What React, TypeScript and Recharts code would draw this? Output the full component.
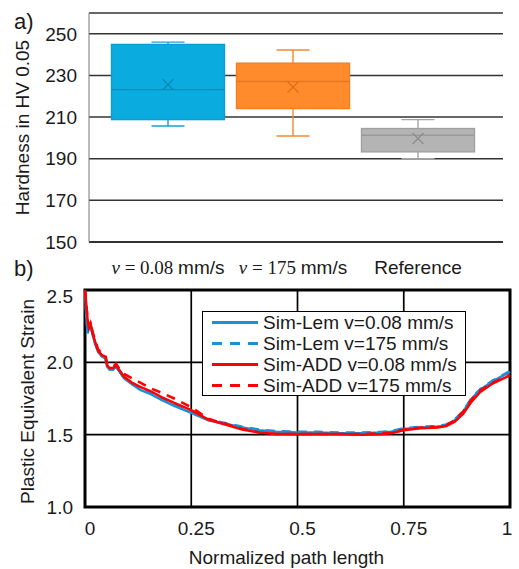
import React from 'react';
import {
  ComposedChart, Bar, XAxis, YAxis, CartesianGrid, LineChart, Line, Legend, Label, ReferenceArea,
} from 'recharts';

// ---------- Chart a) data ----------
const boxCategories = ['0.08 mm/s', '175 mm/s', 'Reference'];
const boxMin = [205.7, 200.9, 190.0];
const boxQ1 = [208.8, 214.1, 193.3];
const boxMedian = [223.2, 227.1, 201.3];
const boxQ3 = [244.9, 235.9, 204.5];
const boxMax = [246.0, 242.2, 208.8];
const boxMean = [225.6, 224.4, 199.7];
const hardnessTicks = [150, 170, 190, 210, 230, 250];

// ---------- Chart b) data ----------
const pathX = [0, 0.003, 0.006, 0.009, 0.013, 0.018, 0.024, 0.031, 0.04, 0.048, 0.052, 0.058, 0.066, 0.073, 0.08, 0.092, 0.11, 0.13, 0.155, 0.18, 0.21, 0.25, 0.29, 0.33, 0.37, 0.41, 0.45, 0.5, 0.55, 0.6, 0.65, 0.7, 0.72, 0.75, 0.79, 0.83, 0.85, 0.87, 0.89, 0.91, 0.93, 0.96, 1.0];
const lemSlow = [2.50, 2.32, 2.20, 2.23, 2.26, 2.19, 2.13, 2.07, 2.04, 2.03, 1.97, 1.95, 1.95, 1.97, 1.94, 1.89, 1.85, 1.81, 1.78, 1.74, 1.70, 1.65, 1.60, 1.575, 1.55, 1.53, 1.52, 1.515, 1.515, 1.51, 1.51, 1.515, 1.52, 1.54, 1.55, 1.555, 1.565, 1.60, 1.66, 1.75, 1.81, 1.87, 1.935];
const lemFast = [2.50, 2.34, 2.22, 2.24, 2.26, 2.19, 2.13, 2.07, 2.04, 2.03, 1.97, 1.95, 1.95, 1.97, 1.94, 1.895, 1.855, 1.815, 1.785, 1.745, 1.705, 1.655, 1.605, 1.58, 1.555, 1.535, 1.525, 1.52, 1.52, 1.515, 1.515, 1.52, 1.525, 1.545, 1.555, 1.56, 1.57, 1.605, 1.665, 1.755, 1.815, 1.875, 1.94];
const addSlow = [2.50, 2.40, 2.30, 2.24, 2.27, 2.20, 2.14, 2.08, 2.05, 2.04, 1.98, 1.96, 1.96, 1.98, 1.95, 1.90, 1.86, 1.83, 1.80, 1.76, 1.72, 1.67, 1.605, 1.57, 1.535, 1.515, 1.505, 1.505, 1.505, 1.505, 1.50, 1.505, 1.51, 1.53, 1.545, 1.55, 1.56, 1.59, 1.645, 1.73, 1.795, 1.855, 1.91];
const addFast = [2.50, 2.40, 2.31, 2.25, 2.28, 2.21, 2.15, 2.09, 2.06, 2.05, 1.99, 1.97, 1.97, 1.99, 1.96, 1.92, 1.89, 1.86, 1.82, 1.79, 1.75, 1.69, 1.61, 1.575, 1.54, 1.515, 1.505, 1.505, 1.505, 1.505, 1.505, 1.51, 1.515, 1.535, 1.55, 1.555, 1.565, 1.60, 1.66, 1.745, 1.805, 1.86, 1.915];
const strainXTicks = [0, 0.25, 0.5, 0.75, 1];
const strainYTicks = [1.0, 1.5, 2.0, 2.5];
const seriesNames = ['Sim-Lem v=0.08 mm/s', 'Sim-Lem v=175 mm/s', 'Sim-ADD v=0.08 mm/s', 'Sim-ADD v=175 mm/s'];

// ---------- Styles ----------
const SANS = '"Liberation Sans", Arial, sans-serif';
const SERIF = '"Liberation Serif", "Times New Roman", serif';
const TEXT = '#1a1a1a';
const BOX_STYLES = [
  { fill: '#0AACE0', stroke: '#0A9DD2', median: '#0A8EC2', mean: '#0A86B8', whisker: '#14A2D8' },
  { fill: '#FF8B2C', stroke: '#F47F20', median: '#E5771C', mean: '#D56E18', whisker: '#FA8730' },
  { fill: '#B4B4B4', stroke: '#A0A0A0', median: '#9A9A9A', mean: '#8C8C8C', whisker: '#A4A4A4' },
];
const BLUE = '#1B8FD7';
const RED = '#FF0000';
const LINE_STYLES = [
  { color: BLUE, dash: undefined as string | undefined },
  { color: BLUE, dash: '9 7' },
  { color: RED, dash: undefined as string | undefined },
  { color: RED, dash: '9 7' },
];

const boxData = boxCategories.map((name, i) => ({
  name,
  range: [boxMin[i], boxMax[i]],
  q1: boxQ1[i],
  median: boxMedian[i],
  q3: boxQ3[i],
  mean: boxMean[i],
}));

const strainData = pathX.map((x, i) => ({
  x,
  lemSlow: lemSlow[i],
  lemFast: lemFast[i],
  addSlow: addSlow[i],
  addFast: addFast[i],
}));
const strainKeys = ['lemSlow', 'lemFast', 'addSlow', 'addFast'];

// Box shape: the bar spans [min, max]; inner values mapped linearly within it
const BoxShape = (props: any) => {
  const { x, y, width, height, payload } = props;
  const idx = boxCategories.indexOf(payload.name);
  const st = BOX_STYLES[idx];
  const [lo, hi] = payload.range;
  const py = (v: number) => y + ((hi - v) / (hi - lo)) * height;
  const cx = x + width / 2;
  const capHalf = 16.5;
  const m = 5.5;
  const my = py(payload.mean);
  return (
    <g>
      <line x1={cx} x2={cx} y1={py(hi)} y2={py(payload.q3)} stroke={st.whisker} strokeWidth={1.4} />
      <line x1={cx} x2={cx} y1={py(payload.q1)} y2={py(lo)} stroke={st.whisker} strokeWidth={1.4} />
      <line x1={cx - capHalf} x2={cx + capHalf} y1={py(hi)} y2={py(hi)} stroke={st.whisker} strokeWidth={1.4} />
      <line x1={cx - capHalf} x2={cx + capHalf} y1={py(lo)} y2={py(lo)} stroke={st.whisker} strokeWidth={1.4} />
      <rect x={x} y={py(payload.q3)} width={width} height={py(payload.q1) - py(payload.q3)} fill={st.fill} stroke={st.stroke} strokeWidth={1.4} />
      <line x1={x} x2={x + width} y1={py(payload.median)} y2={py(payload.median)} stroke={st.median} strokeWidth={1.4} />
      <line x1={cx - m} x2={cx + m} y1={my - m} y2={my + m} stroke={st.mean} strokeWidth={1.2} />
      <line x1={cx - m} x2={cx + m} y1={my + m} y2={my - m} stroke={st.mean} strokeWidth={1.2} />
    </g>
  );
};

const BoxTick = (props: any) => {
  const { x, y, payload } = props;
  const v = String(payload.value);
  if (v === 'Reference') {
    return (
      <text x={x} y={y + 32} textAnchor="middle" fontFamily={SANS} fontSize={19} fill={TEXT}>Reference</text>
    );
  }
  const [num, unit] = v.split(' ');
  return (
    <text x={x} y={y + 32} textAnchor="middle" fontSize={19} fill={TEXT}>
      <tspan fontFamily={SERIF} fontStyle="italic">v</tspan>
      <tspan fontFamily={SERIF}>{' = ' + num + ' '}</tspan>
      <tspan fontFamily={SANS}>{unit}</tspan>
    </text>
  );
};

const StrainXTick = (props: any) => {
  const { x, y, payload } = props;
  const shift = payload.value === 1 ? -3 : 5;
  return (
    <text x={x + shift} y={y} dy="0.71em" textAnchor="middle" fontFamily={SANS} fontSize={19} fill={TEXT}>
      {String(payload.value)}
    </text>
  );
};

const StrainYTick = (props: any) => {
  const { x, y, payload } = props;
  const shift = payload.value === 2.5 ? 6 : 0;
  return (
    <text x={x} y={y + shift} dy="0.36em" textAnchor="end" fontFamily={SANS} fontSize={19} fill={TEXT}>
      {Number(payload.value).toFixed(1)}
    </text>
  );
};

const LegendBox = () => (
  <div
    style={{
      width: 264, height: 85, boxSizing: 'border-box', border: '1.5px solid #000', background: '#fff',
      paddingTop: 0, fontFamily: SANS, fontSize: 19, color: TEXT,
    }}
  >
    {seriesNames.map((n, i) => (
      <div key={n} style={{ display: 'flex', alignItems: 'center', height: 21, lineHeight: '21px' }}>
        <svg width={60} height={21} style={{ flex: 'none' }}>
          <line x1={9} x2={55} y1={10.5} y2={10.5} stroke={LINE_STYLES[i].color} strokeWidth={3} strokeDasharray={LINE_STYLES[i].dash ? '10 8' : undefined} />
        </svg>
        <span style={{ whiteSpace: 'nowrap' }}>{n}</span>
      </div>
    ))}
  </div>
);

export default function App() {
  return (
    <div style={{ position: 'absolute', left: 0, top: 0, width: 519, height: 569, background: '#fff' }}>
      <div style={{ position: 'absolute', left: 0, top: 0 }}>
        <ComposedChart width={519} height={290} data={boxData} margin={{ top: 13, right: 16, left: 0, bottom: 18 }}>
          <CartesianGrid vertical={false} stroke="#333" strokeWidth={1.5} />
          <XAxis
            dataKey="name"
            type="category"
            padding={{ left: 16.5, right: 22.5 }}
            height={30}
            tickSize={0}
            tickMargin={0}
            tickLine={false}
            axisLine={{ stroke: '#222', strokeWidth: 1.5 }}
            tick={<BoxTick />}
            interval={0}
          />
          <YAxis
            domain={[150, 260]}
            ticks={hardnessTicks}
            width={89}
            tickSize={0}
            tickMargin={12}
            tickLine={false}
            axisLine={{ stroke: '#777', strokeWidth: 1 }}
            tick={{ fontFamily: SANS, fontSize: 19, fill: TEXT }}
            allowDataOverflow
            label={{
              content: (p: any) => {
                const vb = p.viewBox || { x: 0, y: 13, width: 89, height: 229 };
                const cx = 22;
                const cy = vb.y + vb.height / 2;
                return (
                  <text x={cx} y={cy} transform={`rotate(-90 ${cx} ${cy})`} textAnchor="middle" dominantBaseline="central" fontFamily={SANS} fontSize={19} fill={TEXT}>
                    Hardness in HV 0.05
                  </text>
                );
              },
            }}
          />
          <Bar dataKey="range" barSize={113} shape={<BoxShape />} isAnimationActive={false} />
        </ComposedChart>
      </div>

      <div style={{ position: 'absolute', left: 0, top: 275 }}>
        <LineChart width={519} height={294} data={strainData} margin={{ top: 15, right: 9, left: 0, bottom: 32 }}>
          <CartesianGrid stroke="#000" strokeWidth={1.7} />
          <XAxis
            dataKey="x"
            type="number"
            domain={[0, 1]}
            ticks={strainXTicks}
            height={30}
            tickSize={0}
            tickMargin={15}
            tickLine={false}
            axisLine={false}
            tick={<StrainXTick />}
            label={{
              content: (p: any) => {
                const vb = p.viewBox || { x: 85, y: 232, width: 425, height: 30 };
                const cx = vb.x + vb.width / 2 - 11;
                return (
                  <text x={cx} y={282} textAnchor="middle" dominantBaseline="central" fontFamily={SANS} fontSize={19} fill={TEXT}>
                    Normalized path length
                  </text>
                );
              },
            }}
          />
          <YAxis
            domain={[1, 2.5]}
            ticks={strainYTicks}
            width={85}
            tickSize={0}
            tickMargin={12}
            tickLine={false}
            axisLine={false}
            tick={<StrainYTick />}
            allowDataOverflow
            label={{
              content: (p: any) => {
                const vb = p.viewBox || { x: 0, y: 15, width: 85, height: 217 };
                const cx = 27;
                const cy = vb.y + vb.height / 2 + 3;
                return (
                  <text x={cx} y={cy} transform={`rotate(-90 ${cx} ${cy})`} textAnchor="middle" dominantBaseline="central" fontFamily={SANS} fontSize={19} fill={TEXT}>
                    Plastic Equivalent Strain
                  </text>
                );
              },
            }}
          />
          <ReferenceArea x1={0} x2={1} y1={1} y2={2.5} fill="none" stroke="#000" strokeWidth={3} ifOverflow="visible" />
          {strainKeys.map((k, i) => (
            <Line
              key={k}
              type="linear"
              dataKey={k}
              name={seriesNames[i]}
              stroke={LINE_STYLES[i].color}
              strokeWidth={2.5}
              strokeDasharray={LINE_STYLES[i].dash}
              dot={false}
              activeDot={false}
              isAnimationActive={false}
            />
          ))}
          <Legend
            layout="horizontal"
            verticalAlign="middle"
            align="center"
            content={<LegendBox />}
            wrapperStyle={{ position: 'absolute', left: 202, top: 36, width: 264, height: 85 }}
          />
        </LineChart>
      </div>

      <svg style={{ position: 'absolute', left: 0, top: 0, pointerEvents: 'none' }} width={519} height={569}>
        <text x={14} y={29} fontFamily={SANS} fontSize={22} fill={TEXT}>a)</text>
        <text x={14} y={276} fontFamily={SANS} fontSize={22} fill={TEXT}>b)</text>
      </svg>
    </div>
  );
}
